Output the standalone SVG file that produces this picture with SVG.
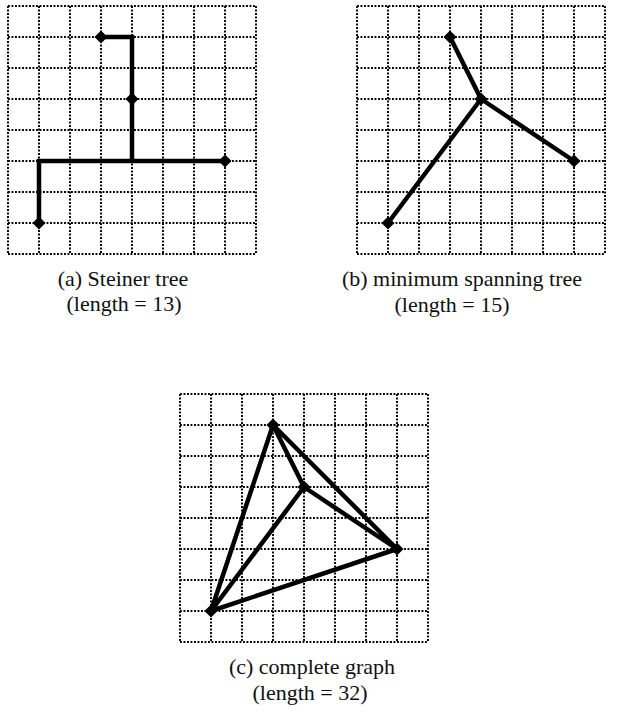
<svg xmlns="http://www.w3.org/2000/svg" width="619" height="720" viewBox="0 0 619 720">
<defs>
<style>
.grid{stroke:#000;stroke-width:1.9;stroke-dasharray:1.9 1.6;fill:none}
.edge{stroke:#000;stroke-width:4.5;fill:none;stroke-linecap:round;stroke-linejoin:miter}
.lbl{font-family:"Liberation Serif","Times New Roman",serif;font-size:22px;fill:#111;text-anchor:middle}
</style>
<path id="d" d="M0,-6.5 L6.5,0 L0,6.5 L-6.5,0 Z" fill="#000"/>
<g id="g">
<path class="grid" d="M0,0H248M0,31H248M0,62H248M0,93H248M0,124H248M0,155H248M0,186H248M0,217H248M0,248H248M0,0V248M31,0V248M62,0V248M93,0V248M124,0V248M155,0V248M186,0V248M217,0V248M248,0V248"/>
</g>
</defs>
<rect width="619" height="720" fill="#fff"/>

<g id="panel-a" transform="translate(8,6)">
<use href="#g"/>
<g id="connectors-a">
<path class="edge" d="M93,31H124V155M31,217V155H217"/>
</g>
<g id="node-a1"><use href="#d" x="93" y="31"/></g>
<g id="node-a2"><use href="#d" x="124" y="93"/></g>
<g id="node-a3"><use href="#d" x="217" y="155"/></g>
<g id="node-a4"><use href="#d" x="31" y="217"/></g>
</g>

<g id="panel-b" transform="translate(357,6)">
<use href="#g"/>
<g id="connectors-b">
<path class="edge" d="M93,31L124,93M124,93L217,155M124,93L31,217"/>
</g>
<g id="node-b1"><use href="#d" x="93" y="31"/></g>
<g id="node-b2"><use href="#d" x="124" y="93"/></g>
<g id="node-b3"><use href="#d" x="217" y="155"/></g>
<g id="node-b4"><use href="#d" x="31" y="217"/></g>
</g>

<g id="panel-c" transform="translate(180,394)">
<use href="#g"/>
<g id="connectors-c">
<path class="edge" d="M93,31L124,93M93,31L217,155M93,31L31,217M124,93L217,155M124,93L31,217M217,155L31,217"/>
</g>
<g id="node-c1"><use href="#d" x="93" y="31"/></g>
<g id="node-c2"><use href="#d" x="124" y="93"/></g>
<g id="node-c3"><use href="#d" x="217" y="155"/></g>
<g id="node-c4"><use href="#d" x="31" y="217"/></g>
</g>

<g id="labels">
<text class="lbl" x="123" y="286">(a) Steiner tree</text>
<text class="lbl" x="124" y="311">(length = 13)</text>
<text class="lbl" x="462" y="286">(b) minimum spanning tree</text>
<text class="lbl" x="452" y="312">(length = 15)</text>
<text class="lbl" x="312" y="674">(c) complete graph</text>
<text class="lbl" x="310" y="700">(length = 32)</text>
</g>
</svg>
